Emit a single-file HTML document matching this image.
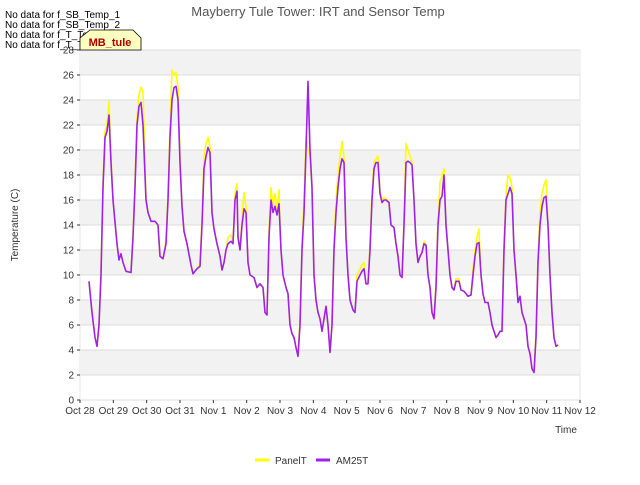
<!DOCTYPE html>
<html><head><meta charset="utf-8"><style>
body{margin:0;background:#fff;font-family:"Liberation Sans",sans-serif}
</style></head><body>
<svg id="chart" width="640" height="480" xmlns="http://www.w3.org/2000/svg" font-family="Liberation Sans, sans-serif">
<rect width="640" height="480" fill="#fff"/>
<g id="bands"></g><g id="grid"></g><g id="ticks"></g><g id="series"></g>
<text x="318" y="16" text-anchor="middle" font-size="13" fill="#555">Mayberry Tule Tower: IRT and Sensor Temp</text>
<text x="18" y="225" text-anchor="middle" font-size="10" fill="#333" transform="rotate(-90 18 225)">Temperature (C)</text>
<text x="566" y="433" text-anchor="middle" font-size="10" fill="#333">Time</text>
<g font-size="10" fill="#000">
<text x="5" y="18">No data for f_SB_Temp_1</text>
<text x="5" y="28">No data for f_SB_Temp_2</text>
<text x="5" y="38">No data for f_T_Temp_1</text>
<text x="5" y="48">No data for f_T_Temp_2</text>
</g>
<g>
<path d="M80,50 L80,38 L90,30 L133,30 L141,38 L141,50 Z" fill="#ffffc0" stroke="#000" stroke-width="0.8"/>
<text x="110" y="46" text-anchor="middle" font-size="11" font-weight="bold" fill="#a00">MB_tule</text>
</g>
<g>
<line x1="255" y1="460" x2="269" y2="460" stroke="#ffff00" stroke-width="3"/>
<text x="275" y="464" font-size="10" fill="#333">PanelT</text>
<line x1="316" y1="460" x2="330" y2="460" stroke="#a020f0" stroke-width="3"/>
<text x="336" y="464" font-size="10" fill="#333">AM25T</text>
</g>
</svg>
<script>
const xLabels=["Oct 28","Oct 29","Oct 30","Oct 31","Nov 1","Nov 2","Nov 3","Nov 4","Nov 5","Nov 6","Nov 7","Nov 8","Nov 9","Nov 10","Nov 11","Nov 12"];
const yTicks=[0,2,4,6,8,10,12,14,16,18,20,22,24,26,28];
const days=[0.27,0.36,0.45,0.51,0.57,0.63,0.69,0.75,0.81,0.87,0.93,0.99,1.11,1.17,1.23,1.29,1.38,1.53,1.59,1.65,1.71,1.77,1.83,1.89,1.98,2.04,2.13,2.25,2.34,2.40,2.49,2.58,2.64,2.70,2.76,2.82,2.88,2.94,3.00,3.06,3.12,3.21,3.33,3.39,3.51,3.60,3.66,3.72,3.78,3.84,3.90,3.96,4.02,4.11,4.20,4.26,4.32,4.38,4.44,4.53,4.59,4.65,4.71,4.74,4.80,4.86,4.92,4.98,5.04,5.10,5.22,5.31,5.40,5.49,5.55,5.61,5.67,5.73,5.79,5.85,5.91,5.97,6.03,6.09,6.18,6.24,6.30,6.36,6.42,6.48,6.54,6.60,6.66,6.72,6.78,6.84,6.90,6.96,7.02,7.08,7.14,7.20,7.26,7.32,7.38,7.44,7.50,7.56,7.62,7.68,7.74,7.80,7.86,7.92,7.98,8.04,8.10,8.19,8.25,8.31,8.40,8.46,8.52,8.58,8.64,8.70,8.76,8.82,8.88,8.94,9.00,9.06,9.12,9.18,9.27,9.33,9.42,9.48,9.54,9.60,9.66,9.72,9.78,9.84,9.90,9.96,10.02,10.08,10.14,10.20,10.26,10.32,10.38,10.44,10.50,10.56,10.62,10.68,10.74,10.80,10.86,10.92,10.98,11.04,11.10,11.16,11.22,11.28,11.37,11.43,11.52,11.58,11.64,11.73,11.79,11.85,11.91,11.97,12.03,12.09,12.15,12.24,12.30,12.36,12.42,12.48,12.54,12.60,12.66,12.72,12.78,12.84,12.90,12.96,13.02,13.08,13.14,13.20,13.26,13.32,13.38,13.44,13.50,13.56,13.62,13.68,13.74,13.80,13.86,13.92,13.98,14.04,14.10,14.16,14.22,14.28,14.34];
const am25t=[9.5,7,5,4.3,6,10,17,21,21.5,22.8,19,16,12.5,11.2,11.7,11,10.3,10.2,13,17,22,23.5,23.8,22,16,15,14.3,14.3,14,11.5,11.3,12.5,16,21,24,25,25.1,24,19,15.5,13.5,12.5,10.8,10.1,10.5,10.7,14,18.5,19.5,20.2,19.8,15,13.7,12.5,11.5,10.4,11,12,12.5,12.7,12.5,16,16.7,13,12,14,15.3,15,11,10,9.8,9,9.3,9,7,6.8,13,16,15,15.5,14.8,15.7,12,10,9,8.5,6,5.3,5,4.2,3.5,6,12,15,20,25.5,20,17,10,8,7,6.5,5.5,6.5,7.5,6,3.8,6,12,15,17,18.5,19.3,19,13,10,8,7.2,7,9.5,10,10.3,10.5,9.3,9.3,12,16,18.5,19,19,16.5,15.8,16,16,15.8,14,13.8,12.5,11.5,10,9.8,14,19,19.1,19,18.8,16,12.5,11,11.5,11.8,12.5,12.4,10,9,7,6.5,9,14,16,16.3,18,14,12,10,9,8.8,9.5,9.5,8.8,8.7,8.5,8.3,8.4,10,11.5,12.5,12.6,10,8.5,7.8,7.8,7,6,5.5,5,5.2,5.5,5.5,12,16,16.5,17,16.5,12,10,7.8,8.3,7,6.5,6,4.3,3.7,2.5,2.2,5,11,14,15.5,16.2,16.3,14,10,7,5,4.3,4.4];
const panelT=[9.5,7,5,4.3,6,10.3,17.5,21.5,22,23.9,19.5,16,12.5,11.2,11.7,11,10.3,10.2,13.3,17.5,22.5,24.5,25,24.7,16.3,15,14.3,14.3,14,11.5,11.3,12.7,16.5,22,26.4,26,26.2,25,19.5,15.5,13.5,12.5,10.8,10.1,10.5,10.9,14.5,19.5,20.5,21,20.3,15,13.7,12.5,11.5,10.4,11,12,13,13.2,12.7,16.5,17.3,13,12,14.5,16.6,15.5,11,10,9.8,9,9.3,9,7,6.8,13.5,17,15.5,16.5,15.2,16.8,12,10,9,8.5,6,5.3,5,4.2,3.5,6.5,12.5,16,21,20,19.5,17,10,8,7,6.5,5.5,6.5,7.5,6,3.8,6.5,12.5,16,18,19.5,20.7,19.5,13,10,8,7.2,7,10,10.5,10.8,11,9.3,9.3,12.5,16.5,19,19.3,19.5,16.8,15.9,16.2,16.1,15.8,14,13.8,12.5,11.5,10,9.8,14.5,20.5,20,19.5,19,16,12.5,11,11.5,11.8,12.7,12.4,10,9,7,6.5,9.5,14.5,17.5,17.8,18.5,14,12,10,9,8.8,9.7,9.7,8.8,8.7,8.5,8.3,8.4,10.5,12,13,13.7,10,8.5,7.8,7.8,7,6,5.5,5,5.2,5.5,5.5,12.5,16.5,18,17.8,17,12,10,7.8,8.3,7,6.5,6,4.3,3.7,2.5,2.2,5.5,11.5,15,16.5,17.2,17.6,14,10,7,5,4.3,4.5];

const X0=80,X1=580,Y0=400,Y1=50;
const xs=d=>X0+(X1-X0)*d/15;
const ys=v=>Y0-(Y0-Y1)*v/28;
const NS="http://www.w3.org/2000/svg";
function mk(tag,parent,attrs){const e=document.createElementNS(NS,tag);for(const k in attrs)e.setAttribute(k,attrs[k]);parent.appendChild(e);return e;}
const bands=document.getElementById('bands'),grid=document.getElementById('grid'),ticks=document.getElementById('ticks'),series=document.getElementById('series');
const bg=mk('rect',bands,{x:X0,y:Y1,width:X1-X0,height:Y0-Y1,fill:'#ffffff',stroke:'#ccc','stroke-width':0.5});


for(let i=0;i<yTicks.length-1;i++){
  if(i%2===1){const r=mk('rect',bands,{x:X0,y:ys(yTicks[i+1]),width:X1-X0,height:ys(yTicks[i])-ys(yTicks[i+1]),fill:'#f2f2f2'});
  
  }
}
yTicks.forEach(v=>{
  const l=mk('line',grid,{x1:X0,x2:X1,y1:ys(v),y2:ys(v),stroke:'#dcdcdc','stroke-width':1});
  
  
  const t=mk('text',ticks,{x:X0-6,y:ys(v)+3.5,'text-anchor':'end','font-size':10,fill:'#333'});
  t.textContent=v;
  
  
  mk('line',ticks,{x1:X0-3,x2:X0,y1:ys(v),y2:ys(v),stroke:'#333'});
});
xLabels.forEach((s,i)=>{
  const t=mk('text',ticks,{x:xs(i),y:Y0+14,'text-anchor':'middle','font-size':10,fill:'#333'});
  t.textContent=s;
  
  
  mk('line',ticks,{x1:xs(i),x2:xs(i),y1:Y0,y2:Y0+3,stroke:'#333'});
});
function line(vals,color,name){
  const d=vals.map((v,i)=>(i?'L':'M')+xs(days[i]).toFixed(1)+','+ys(v).toFixed(1)).join(' ');
  const p=mk('path',series,{d:d,fill:'none',stroke:color,'stroke-width':1.6,'stroke-linejoin':'round'});
  
  
}
line(panelT,'#ffff00','panelt-line');
line(am25t,'#a020f0','am25t-line');
</script>
</body></html>
